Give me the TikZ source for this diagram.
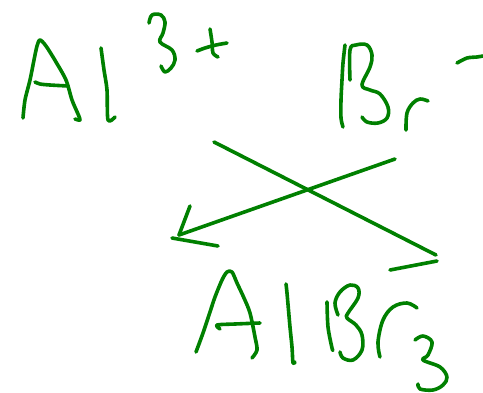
\documentclass[tikz,border=0pt]{standalone}
\usepackage{tikz}
\definecolor{pen}{RGB}{0,128,0}
\tikzset{ink/.style={draw=pen, line width=3.6pt, line cap=round, line join=round}}
\begin{document}
\begin{tikzpicture}[x=1pt,y=-1pt]
\useasboundingbox[fill=white] (0,0) rectangle (483,392);
% Al (top left)
\path[ink] plot[smooth,tension=0.5] coordinates {(23,118) (25,100) (30,80) (34,60) (37,46) (40,40) (46,46) (56,62) (66,80) (72,100) (78,114) (80,120) (75,119)};
\path[ink] plot[smooth,tension=0.5] coordinates {(35,82) (40,84) (50,85) (68,86)};
\path[ink] plot[smooth,tension=0.5] coordinates {(101,48) (104,70) (107,90) (108,120) (115,117)};
% 3+
\path[ink] plot[smooth,tension=0.6] coordinates {(149,23) (152,15) (161,15) (165,22) (163,33) (160,42) (172,50) (175,60) (171,68) (165,72) (161,66)};
\path[ink] plot[smooth,tension=0.5] coordinates {(197,51) (205,48) (216,45) (227,43)};
\path[ink] plot[smooth,tension=0.5] coordinates {(210,29) (212,42) (213,53) (218,57)};
% Br-
\path[ink] plot[smooth,tension=0.5] coordinates {(345,45) (343,63) (342,80) (341,100) (341,118) (343,127)};
\path[ink] plot[smooth,tension=0.6] coordinates {(350,80) (350,50) (356,45) (367,45) (372,55) (370,67) (362,85) (370,90) (380,94) (388,107) (387,118) (378,123) (367,122) (362,117)};
\path[ink] plot[smooth,tension=0.6] coordinates {(406,130) (407,113) (413,103) (420,99) (428,101)};
\path[ink] plot[smooth,tension=0.5] coordinates {(457,63) (467,58) (477,57) (483,56)};
% crossing arrows
\coordinate (a1) at (214,142);
\coordinate (a2) at (436,255);
\coordinate (b1) at (395,159);
\coordinate (b2) at (179,235);
\coordinate (h1) at (190,206);
\coordinate (t1) at (172,238);
\coordinate (t2) at (218,246);
\coordinate (u1) at (390,270);
\coordinate (u2) at (437,261);
\path[ink] (a1) -- (a2);
\path[ink] (b1) -- (b2);
\path[ink] (h1) -- (b2);
\path[ink] (t1) -- (t2);
\path[ink] (u1) -- (u2);
% AlBr3 (bottom)
\path[ink] plot[smooth,tension=0.5] coordinates {(196,352) (203,333) (210,312) (215,297) (222,280) (227,272) (232,272) (237,283) (244,298) (250,313) (255,337) (257,350) (252,358)};
\path[ink] plot[smooth,tension=0.5] coordinates {(220,329) (217,325) (235,324) (260,323)};
\path[ink] plot[smooth,tension=0.5] coordinates {(286,284) (287,293) (290,327) (292,347) (293,363) (295,362)};
\path[ink] plot[smooth,tension=0.5] coordinates {(327,302) (328,327) (332,348) (333,350)};
\path[ink] plot[smooth,tension=0.6] coordinates {(338,315) (335,303) (340,292) (350,285) (358,288) (358,298) (348,313) (347,318) (356,325) (362,335) (362,350) (353,360) (343,358) (340,352)};
\path[ink] plot[smooth,tension=0.6] coordinates {(380,357) (378,342) (383,320) (393,307) (407,303) (417,308)};
\path[ink] plot[smooth,tension=0.6] coordinates {(415,340) (423,336) (432,342) (428,355) (423,360) (440,367) (447,377) (443,385) (433,390) (420,389) (418,384)};
\end{tikzpicture}
\end{document}
